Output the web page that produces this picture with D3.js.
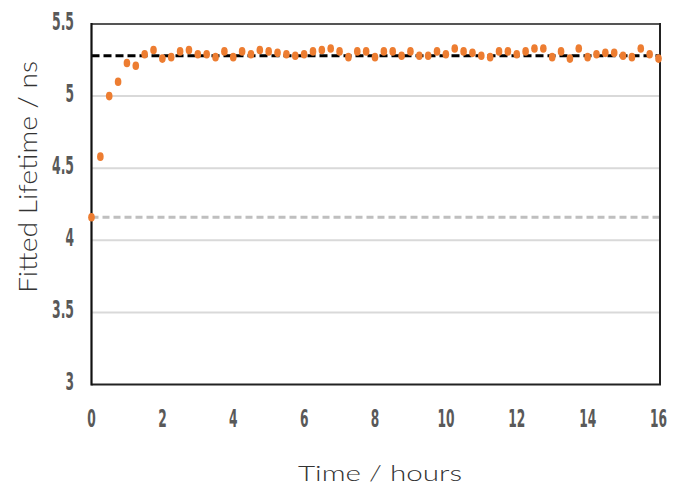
<!DOCTYPE html>
<html>
<head>
<meta charset="utf-8">
<script src="https://cdn.jsdelivr.net/npm/d3@7/dist/d3.min.js"></script>
<style>
  html, body { margin: 0; padding: 0; background: #fff; }
  svg { display: block; }
</style>
</head>
<body>
<svg id="chart" width="682" height="491"></svg>
<script>
// ---- Data ----
const timeHours = [
  0, 0.25, 0.5, 0.75, 1, 1.25, 1.5, 1.75, 2, 2.25, 2.5, 2.75, 3, 3.25, 3.5, 3.75,
  4, 4.25, 4.5, 4.75, 5, 5.25, 5.5, 5.75, 6, 6.25, 6.5, 6.75, 7, 7.25, 7.5, 7.75,
  8, 8.25, 8.5, 8.75, 9, 9.25, 9.5, 9.75, 10, 10.25, 10.5, 10.75, 11, 11.25, 11.5, 11.75,
  12, 12.25, 12.5, 12.75, 13, 13.25, 13.5, 13.75, 14, 14.25, 14.5, 14.75, 15, 15.25, 15.5, 15.75, 16
];
const lifetimeNs = [
  4.16, 4.58, 5.00, 5.10, 5.23, 5.21, 5.29, 5.32, 5.26, 5.27, 5.31, 5.32, 5.29, 5.29, 5.27, 5.31,
  5.27, 5.31, 5.29, 5.32, 5.31, 5.30, 5.29, 5.28, 5.29, 5.31, 5.32, 5.33, 5.31, 5.27, 5.31, 5.31,
  5.27, 5.31, 5.31, 5.28, 5.31, 5.28, 5.28, 5.31, 5.29, 5.33, 5.31, 5.30, 5.28, 5.27, 5.31, 5.31,
  5.29, 5.31, 5.33, 5.33, 5.27, 5.31, 5.26, 5.33, 5.27, 5.29, 5.30, 5.30, 5.28, 5.27, 5.33, 5.29, 5.26
];
const plateauLevel = 5.28;   // black dashed reference
const initialLevel = 4.16;   // grey dashed reference
const xTicks = [0, 2, 4, 6, 8, 10, 12, 14, 16];
const yTicks = [3, 3.5, 4, 4.5, 5, 5.5];
const yTickLabels = ["3", "3.5", "4", "4.5", "5", "5.5"];
const xTitle = "Time / hours";
const yTitle = "Fitted Lifetime / ns";

// ---- Layout ----
const svg = d3.select("#chart");
const pLeft = 91.5, pRight = 658.5, pTop = 24, pBottom = 384.5, frameRight = 660;
const x = d3.scaleLinear().domain([0, 16]).range([pLeft, pRight]);
const y = d3.scaleLinear().domain([3, 5.5]).range([pBottom, pTop]);

// gridlines
svg.append("g").selectAll("line")
  .data(yTicks.filter(v => v > 3 && v < 5.5))
  .join("line")
  .attr("x1", pLeft).attr("x2", frameRight)
  .attr("y1", d => y(d)).attr("y2", d => y(d))
  .attr("stroke", "#d9d9d9").attr("stroke-width", 2);

// reference dashed lines
svg.append("line")
  .attr("x1", pLeft).attr("x2", frameRight)
  .attr("y1", y(initialLevel)).attr("y2", y(initialLevel))
  .attr("stroke", "#bfbfbf").attr("stroke-width", 3)
  .attr("stroke-dasharray", "7,4");
svg.append("line")
  .attr("x1", pLeft).attr("x2", frameRight)
  .attr("y1", y(plateauLevel)).attr("y2", y(plateauLevel))
  .attr("stroke", "#000").attr("stroke-width", 3)
  .attr("stroke-dasharray", "8,4");

// frame
svg.append("line").attr("x1", pLeft).attr("x2", frameRight).attr("y1", pTop).attr("y2", pTop)
  .attr("stroke", "#555").attr("stroke-width", 2.2);
svg.append("line").attr("x1", frameRight).attr("x2", frameRight).attr("y1", pTop - 1).attr("y2", pBottom)
  .attr("stroke", "#222").attr("stroke-width", 2);
svg.append("line").attr("x1", pLeft).attr("x2", frameRight + 1).attr("y1", pBottom).attr("y2", pBottom)
  .attr("stroke", "#222").attr("stroke-width", 2.2);
svg.append("line").attr("x1", pLeft).attr("x2", pLeft).attr("y1", pTop - 1).attr("y2", pBottom + 1)
  .attr("stroke", "#111").attr("stroke-width", 2.2);

// points
svg.append("g").selectAll("ellipse")
  .data(timeHours.map((t, i) => [t, lifetimeNs[i]]))
  .join("ellipse")
  .attr("cx", d => x(d[0])).attr("cy", d => y(d[1]))
  .attr("rx", 3.3).attr("ry", 4.3)
  .attr("fill", "#ED7D31");

// tick labels
const tickFont = "'Liberation Sans Narrow', 'DejaVu Sans Condensed', 'Liberation Sans', sans-serif";
svg.append("g").selectAll("text")
  .data(xTicks)
  .join("text")
  .attr("x", d => x(d)).attr("y", 427)
  .attr("text-anchor", "middle")
  .attr("font-family", tickFont).attr("font-weight", "bold").attr("font-size", 24)
  .attr("fill", "#595959")
  .attr("textLength", d => String(d).length > 1 ? 17 : 8.5)
  .attr("lengthAdjust", "spacingAndGlyphs")
  .text(d => String(d));

svg.append("g").selectAll("text")
  .data(yTicks)
  .join("text")
  .attr("x", 74).attr("y", d => y(d) + 5.5)
  .attr("text-anchor", "end")
  .attr("font-family", tickFont).attr("font-weight", "bold").attr("font-size", 24)
  .attr("fill", "#595959")
  .attr("textLength", (d, i) => yTickLabels[i].length > 1 ? 22 : 8.5)
  .attr("lengthAdjust", "spacingAndGlyphs")
  .text((d, i) => yTickLabels[i]);

// axis titles
const titleFont = "'Lato', 'Open Sans', 'Noto Sans', sans-serif";
svg.append("text")
  .attr("x", 380).attr("y", 481)
  .attr("text-anchor", "middle")
  .attr("font-family", titleFont).attr("font-weight", 300).attr("font-size", 22)
  .attr("fill", "#333")
  .attr("textLength", 164).attr("lengthAdjust", "spacingAndGlyphs")
  .text(xTitle);

svg.append("text")
  .attr("transform", "translate(37,177) rotate(-90)")
  .attr("text-anchor", "middle")
  .attr("font-family", titleFont).attr("font-weight", 300).attr("font-size", 26)
  .attr("fill", "#333")
  .attr("textLength", 232).attr("lengthAdjust", "spacingAndGlyphs")
  .text(yTitle);
</script>
</body>
</html>
